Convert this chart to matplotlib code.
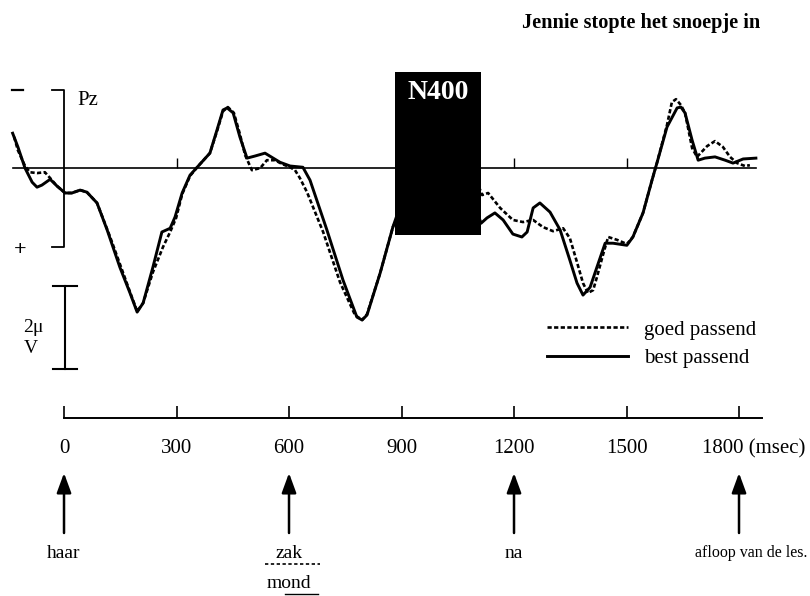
import matplotlib
matplotlib.use("Agg")
import matplotlib.pyplot as plt
from matplotlib.patches import Rectangle
from matplotlib.transforms import ScaledTranslation, blended_transform_factory

plt.rcParams['font.family'] = ['Liberation Serif', 'DejaVu Serif']

# ERP at Pz, time in ms, amplitude in microvolt (negative plotted up)
best_ms = [-137, -123, -104, -85, -72, -59, -37, -19, 3, 21,
           43, 61, 88, 115, 149, 176, 195, 211, 237, 261,
           283, 296, 315, 336, 355, 389, 408, 424, 435, 451,
           469, 488, 509, 536, 576, 603, 637, 656, 701, 744,
           781, 795, 808, 843, 877, 920, 970, 1020, 1070, 1112,
           1128, 1149, 1171, 1197, 1221, 1235, 1251, 1269, 1296, 1323,
           1349, 1368, 1384, 1403, 1421, 1443, 1464, 1501, 1517, 1544,
           1568, 1581, 1608, 1635, 1645, 1656, 1675, 1691, 1709, 1736,
           1763, 1784, 1811, 1845]
best_uv = [-0.84, -0.51, 0.0, 0.34, 0.46, 0.41, 0.27, 0.43, 0.60, 0.60,
           0.53, 0.58, 0.84, 1.49, 2.39, 3.01, 3.47, 3.25, 2.39, 1.54,
           1.45, 1.18, 0.60, 0.17, -0.02, -0.36, -0.92, -1.40, -1.45, -1.33,
           -0.75, -0.24, -0.29, -0.36, -0.14, -0.05, -0.02, 0.29, 1.49, 2.70,
           3.59, 3.66, 3.54, 2.53, 1.42, 0.3, -0.6, -0.8, 0.2, 1.33,
           1.20, 1.08, 1.25, 1.59, 1.66, 1.54, 0.96, 0.84, 1.06, 1.49,
           2.22, 2.77, 3.06, 2.87, 2.39, 1.81, 1.81, 1.86, 1.66, 1.08,
           0.29, -0.12, -0.99, -1.45, -1.47, -1.33, -0.67, -0.19, -0.24, -0.27,
           -0.19, -0.12, -0.22, -0.24]

goed_ms = [-133, -123, -104, -91, -72, -51, -37, -19, 3, 21,
           43, 61, 88, 123, 155, 179, 195, 211, 237, 264,
           283, 299, 315, 336, 355, 389, 408, 424, 437, 453,
           469, 483, 501, 523, 541, 563, 581, 603, 616, 629,
           648, 691, 736, 776, 795, 808, 843, 877, 920, 970,
           1020, 1070, 1115, 1131, 1163, 1197, 1224, 1251, 1277, 1304,
           1331, 1349, 1368, 1384, 1397, 1411, 1421, 1437, 1451, 1475,
           1501, 1517, 1544, 1568, 1581, 1608, 1621, 1632, 1645, 1656,
           1675, 1688, 1715, 1736, 1757, 1776, 1795, 1816, 1829]
goed_uv = [-0.75, -0.43, -0.05, 0.10, 0.12, 0.10, 0.24, 0.43, 0.60, 0.60,
           0.53, 0.58, 0.84, 1.66, 2.46, 3.06, 3.45, 3.25, 2.51, 1.90,
           1.54, 1.20, 0.63, 0.19, -0.02, -0.36, -0.89, -1.37, -1.47, -1.33,
           -0.82, -0.31, 0.05, 0.00, -0.19, -0.19, -0.10, -0.02, 0.05, 0.24,
           0.58, 1.54, 2.75, 3.54, 3.66, 3.52, 2.53, 1.42, 0.6, -0.5,
           -0.9, -0.4, 0.65, 0.60, 0.96, 1.25, 1.30, 1.25, 1.42, 1.52,
           1.45, 1.69, 2.27, 2.77, 3.01, 2.94, 2.63, 2.10, 1.66, 1.73,
           1.83, 1.66, 1.08, 0.29, -0.12, -1.04, -1.59, -1.66, -1.52, -1.33,
           -0.48, -0.27, -0.53, -0.65, -0.51, -0.27, -0.12, -0.05, -0.07]

tick_ms = [0, 300, 600, 900, 1200, 1500, 1800]
tick_labels = ['0', '300', '600', '900', '1200', '1500', '1800 (msec)']
baseline_ticks = [300, 900, 1200, 1500]

word_ms = [0, 600, 1200, 1800]
word_labels = ['haar', 'zak', 'na', 'afloop van de les.']
alt_word = 'mond'

n400_ms = (883, 1112)
n400_uv = (-2.31, 1.61)

fig = plt.figure(figsize=(8.1, 5.96), dpi=100)
ax = fig.add_axes([0, 0, 1, 1])
ax.set_xlim(-170.7, 1989.3)
ax.set_ylim(10.31, -4.05)
ax.axis('off')

# baseline with small ticks
ax.plot([best_ms[0], best_ms[-1]], [0, 0], color='black', lw=1.2)
ax.vlines(baseline_ticks, 0, -0.24, color='black', lw=1)

goed, = ax.plot(goed_ms, goed_uv, color='black', lw=1.9, dashes=(1.6, 0.9),
                dash_joinstyle='round', label='goed passend')
best, = ax.plot(best_ms, best_uv, color='black', lw=2.1,
                solid_joinstyle='round', label='best passend')

# N400 window
ax.add_patch(Rectangle((n400_ms[0], n400_uv[0]), n400_ms[1] - n400_ms[0],
                       n400_uv[1] - n400_uv[0], facecolor='black', zorder=5))
ax.text(sum(n400_ms) / 2, -1.83, 'N400', color='white', fontsize=20,
        fontweight='bold', ha='center', va='center', zorder=6)

# polarity bracket and Pz label
ax.plot([-32, 0, 0, -32], [-1.88, -1.88, 1.90, 1.90], color='black', lw=1.3)
ax.plot([-139, -109], [-1.88, -1.88], color='black', lw=1.6)
ax.text(-117, 1.98, '+', fontsize=16, fontweight='bold', ha='center', va='center')
ax.text(35, -1.64, 'Pz', fontsize=15, ha='left', va='center')

# 2 microvolt scale bar
ax.plot([3, 3], [2.84, 4.84], color='black', lw=1.5)
ax.plot([-29, 35], [2.84, 2.84], color='black', lw=1.5)
ax.plot([-29, 35], [4.84, 4.84], color='black', lw=1.5)
ax.text(-83, 3.83, '2\u03bc', fontsize=14, ha='center', va='center')
ax.text(-88, 4.34, 'V', fontsize=14, ha='center', va='center')

ax.legend(handles=[goed, best], loc='upper left', frameon=False,
          bbox_to_anchor=(547 / 810, 1 - 320 / 596), bbox_transform=fig.transFigure,
          fontsize=15, handlelength=3.9, handletextpad=0.75, labelspacing=0.42,
          borderpad=0, borderaxespad=0)

fig.text(522 / 810, 1 - 23 / 596, 'Jennie stopte het snoepje in',
         fontsize=14.6, fontweight='bold', ha='left', va='center')

# time axis
ax2 = fig.add_axes([64 / 810, 1 - 418 / 596, (762 - 64) / 810, 0.05])
ax2.set_xlim(0, 1861)
ax2.patch.set_visible(False)
for side in ['top', 'left', 'right']:
    ax2.spines[side].set_visible(False)
ax2.spines['bottom'].set_linewidth(1.4)
ax2.set_yticks([])
ax2.set_xticks(tick_ms)
ax2.set_xticklabels(tick_labels)
ax2.tick_params(axis='x', direction='in', length=8.5, width=1.2, pad=15, labelsize=15)
last = ax2.get_xticklabels()[-1]
last.set_transform(last.get_transform() + ScaledTranslation(0.145, 0, fig.dpi_scale_trans))

# word onsets
mix = blended_transform_factory(ax.transData, fig.transFigure)
for t, w in zip(word_ms, word_labels):
    ax.annotate('', xy=(t, 1 - 473 / 596), xycoords=mix,
                xytext=(t, 1 - 533 / 596), textcoords=mix,
                arrowprops=dict(arrowstyle='-|>,head_length=0.6,head_width=0.22',
                                color='black', lw=1.8, shrinkA=0, shrinkB=0,
                                mutation_scale=20))
    if t == word_ms[-1]:
        ax.text(1983, 1 - 553 / 596, w, transform=mix, fontsize=11.5,
                ha='right', va='center')
    else:
        ax.text(t, 1 - 553 / 596, w, transform=mix, fontsize=14,
                ha='center', va='center')

ax.plot([536, 683], [1 - 564 / 596] * 2, transform=mix, color='black',
        lw=1.2, dashes=(2, 1.5))
ax.text(word_ms[1], 1 - 584 / 596, alt_word, transform=mix, fontsize=14,
        ha='center', va='center')
ax.plot([589, 677], [1 - 594 / 596] * 2, transform=mix, color='black', lw=1)

fig.savefig('out.png', dpi=100)
